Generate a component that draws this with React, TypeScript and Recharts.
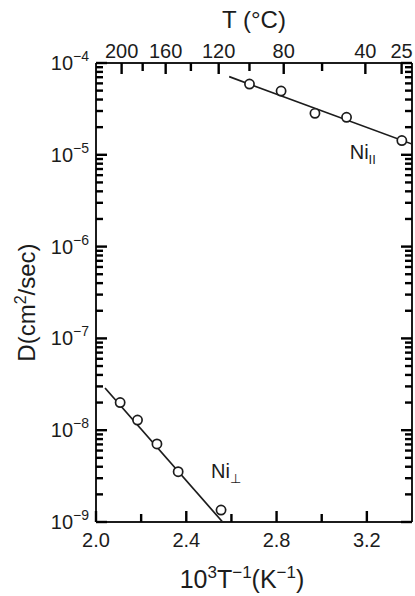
import React from 'react';
import { ComposedChart, XAxis, YAxis, Scatter, ReferenceDot } from 'recharts';

const W = 415;
const H = 596;
const FONT = '"Liberation Sans", Arial, Helvetica, sans-serif';
const INK = '#1c1c1c';

// ---- data (x = 10^3/T in K^-1, D in cm^2/sec) ----
const niParallelX = [2.68, 2.82, 2.97, 3.11, 3.355];
const niParallelD = [5.9e-5, 4.95e-5, 2.83e-5, 2.56e-5, 1.43e-5];
const niParallelFitX = [2.59, 3.4];
const niParallelFitD = [7.1e-5, 1.31e-5];

const niPerpX = [2.107, 2.184, 2.27, 2.364, 2.554];
const niPerpD = [2.0e-8, 1.29e-8, 7.08e-9, 3.53e-9, 1.35e-9];
const niPerpFitX = [2.04, 2.561];
const niPerpFitD = [2.88e-8, 1.0e-9];

const labelParallel = { x: 3.124, D: 9.0e-6 };
const labelPerp = { x: 2.51, D: 3.01e-9 };

const bottomTicks = [2.0, 2.2, 2.4, 2.6, 2.8, 3.0, 3.2];
const bottomLabels = [2.0, 2.4, 2.8, 3.2];
const topTempsC = [200, 180, 160, 140, 120, 100, 80, 60, 40, 25];
const topLabelsC = [200, 160, 120, 80, 40, 25];
const decadeExps = [-9, -8, -7, -6, -5, -4];

// log10 transform so the y axis can carry minor log ticks
const zip = (xs: number[], ds: number[]) => xs.map((x, i) => ({ x, logD: Math.log10(ds[i]) }));
const parallelPts = zip(niParallelX, niParallelD);
const parallelFit = zip(niParallelFitX, niParallelFitD);
const perpPts = zip(niPerpX, niPerpD);
const perpFit = zip(niPerpFitX, niPerpFitD);

const logTicks: number[] = [];
decadeExps.forEach((e, i) => {
  if (i === decadeExps.length - 1) logTicks.push(e);
  else for (let m = 1; m <= 9; m++) logTicks.push(e + Math.log10(m));
});
const topTickX = topTempsC.map((t) => 1000 / (t + 273.15));

const isDecade = (l: number) => Math.abs(l - Math.round(l)) < 1e-6;
const TK = 2.4; // tick thickness

const LeftTick = (props: any) => {
  const { x, y, payload } = props;
  const v = payload.value;
  const major = isDecade(v);
  const e = Math.round(v);
  const len = major ? 11 : 7;
  return (
    <g>
      <rect x={x} y={y - TK / 2} width={len} height={TK} fill="#000" />
      {major && (
        <text x={x - 7} y={y + 7} textAnchor="end" fontSize={20} fontFamily={FONT} fill={INK}>
          10<tspan dy={-9} fontSize={14}>{'\u2212' + Math.abs(e)}</tspan>
        </text>
      )}
    </g>
  );
};

const RightTick = (props: any) => {
  const { x, y, payload } = props;
  const len = isDecade(payload.value) ? 11 : 7;
  return <rect x={x - len} y={y - TK / 2} width={len} height={TK} fill="#000" />;
};

const BottomTick = (props: any) => {
  const { x, y, payload } = props;
  const v = payload.value;
  const labeled = bottomLabels.some((b) => Math.abs(b - v) < 1e-6);
  const len = labeled ? 11 : 8;
  return (
    <g>
      <rect x={x - TK / 2} y={y - len} width={TK} height={len} fill="#000" />
      {labeled && (
        <text x={x} y={y + 25} textAnchor="middle" fontSize={20} fontFamily={FONT} fill={INK}>
          {v.toFixed(1)}
        </text>
      )}
    </g>
  );
};

const TopTick = (props: any) => {
  const { x, y, payload } = props;
  const idx = topTickX.findIndex((v) => Math.abs(v - payload.value) < 1e-6);
  const t = idx >= 0 ? topTempsC[idx] : NaN;
  const labeled = topLabelsC.includes(t);
  const len = labeled ? 11 : 8;
  return (
    <g>
      <rect x={x - TK / 2} y={y} width={TK} height={len} fill="#000" />
      {labeled && (
        <text x={x} y={y - 5} textAnchor="middle" fontSize={20} fontFamily={FONT} fill={INK}>
          {t}
        </text>
      )}
    </g>
  );
};

const OpenCircle = (props: any) => (
  <circle cx={props.cx} cy={props.cy} r={4.6} fill="#fff" stroke={INK} strokeWidth={1.7} />
);
const NoShape = () => <g />;

const YTitle = (props: any) => {
  const vb = props.viewBox;
  const cx = vb.x + 35;
  const cy = vb.y + vb.height / 2 + 10;
  return (
    <text
      x={cx}
      y={cy}
      transform={`rotate(-90, ${cx}, ${cy})`}
      textAnchor="middle"
      fontSize={24}
      fontFamily={FONT}
      fill={INK}
    >
      D(cm<tspan dy={-9} fontSize={16}>2</tspan>
      <tspan dy={9}>/sec)</tspan>
    </text>
  );
};

const XTitle = (props: any) => {
  const vb = props.viewBox;
  const cx = vb.x + vb.width / 2 - 12;
  const cy = vb.y + 66;
  return (
    <text x={cx} y={cy} textAnchor="middle" fontSize={25} fontFamily={FONT} fill={INK}>
      10<tspan dy={-10} fontSize={17}>3</tspan>
      <tspan dy={10}>T</tspan>
      <tspan dy={-10} fontSize={17}>{'\u22121'}</tspan>
      <tspan dy={10}>(K</tspan>
      <tspan dy={-10} fontSize={17}>{'\u22121'}</tspan>
      <tspan dy={10}>)</tspan>
    </text>
  );
};

const TopTitle = (props: any) => {
  const vb = props.viewBox;
  const cx = vb.x + vb.width / 2;
  return (
    <text x={cx} y={vb.y + 28} textAnchor="middle" fontSize={24} fontFamily={FONT} fill={INK}>
      T (°C)
    </text>
  );
};

const ParLabel = (props: any) => (
  <text x={props.cx} y={props.cy} fontSize={20} fontFamily={FONT} fill={INK}>
    Ni<tspan dy={5} fontSize={13}>II</tspan>
  </text>
);
const PerpLabel = (props: any) => (
  <text x={props.cx} y={props.cy} fontSize={20} fontFamily={FONT} fill={INK}>
    Ni<tspan dy={5} fontSize={13}>⊥</tspan>
  </text>
);

export default function App() {
  return (
    <div style={{ position: 'absolute', left: 0, top: 0, width: W, height: H, background: '#fff' }}>
      <ComposedChart width={W} height={H} margin={{ top: 0, right: 0, bottom: 0, left: 0 }}>
        <XAxis
          xAxisId="b"
          dataKey="x"
          type="number"
          domain={[2.0, 3.4]}
          ticks={bottomTicks}
          interval={0}
          orientation="bottom"
          height={74}
          tickSize={0}
          tickMargin={0}
          tickLine={false}
          tick={BottomTick}
          axisLine={{ stroke: INK, strokeWidth: 2 }}
          allowDataOverflow
          label={XTitle}
        />
        <XAxis
          xAxisId="t"
          dataKey="x"
          type="number"
          domain={[2.0, 3.4]}
          ticks={topTickX}
          interval={0}
          orientation="top"
          height={63}
          tickSize={0}
          tickMargin={0}
          tickLine={false}
          tick={TopTick}
          axisLine={{ stroke: INK, strokeWidth: 2 }}
          allowDataOverflow
          label={TopTitle}
        />
        <YAxis
          yAxisId="l"
          dataKey="logD"
          type="number"
          domain={[-9, -4]}
          ticks={logTicks}
          interval={0}
          orientation="left"
          width={96}
          tickSize={0}
          tickMargin={0}
          tickLine={false}
          tick={LeftTick}
          axisLine={{ stroke: INK, strokeWidth: 2 }}
          allowDataOverflow
          label={YTitle}
        />
        <YAxis
          yAxisId="r"
          dataKey="logD"
          type="number"
          domain={[-9, -4]}
          ticks={logTicks}
          interval={0}
          orientation="right"
          width={3}
          tickSize={0}
          tickMargin={0}
          tickLine={false}
          tick={RightTick}
          axisLine={{ stroke: INK, strokeWidth: 2 }}
          allowDataOverflow
        />
        <Scatter xAxisId="t" yAxisId="r" data={parallelPts} shape={NoShape} isAnimationActive={false} />
        <Scatter
          xAxisId="b"
          yAxisId="l"
          data={parallelFit}
          line={{ stroke: INK, strokeWidth: 1.7 }}
          shape={NoShape}
          isAnimationActive={false}
        />
        <Scatter
          xAxisId="b"
          yAxisId="l"
          data={perpFit}
          line={{ stroke: INK, strokeWidth: 1.7 }}
          shape={NoShape}
          isAnimationActive={false}
        />
        <Scatter xAxisId="b" yAxisId="l" data={parallelPts} shape={OpenCircle} isAnimationActive={false} />
        <Scatter xAxisId="b" yAxisId="l" data={perpPts} shape={OpenCircle} isAnimationActive={false} />
        <ReferenceDot
          xAxisId="b"
          yAxisId="l"
          x={labelParallel.x}
          y={Math.log10(labelParallel.D)}
          r={0}
          shape={ParLabel}
        />
        <ReferenceDot
          xAxisId="b"
          yAxisId="l"
          x={labelPerp.x}
          y={Math.log10(labelPerp.D)}
          r={0}
          shape={PerpLabel}
        />
      </ComposedChart>
    </div>
  );
}
